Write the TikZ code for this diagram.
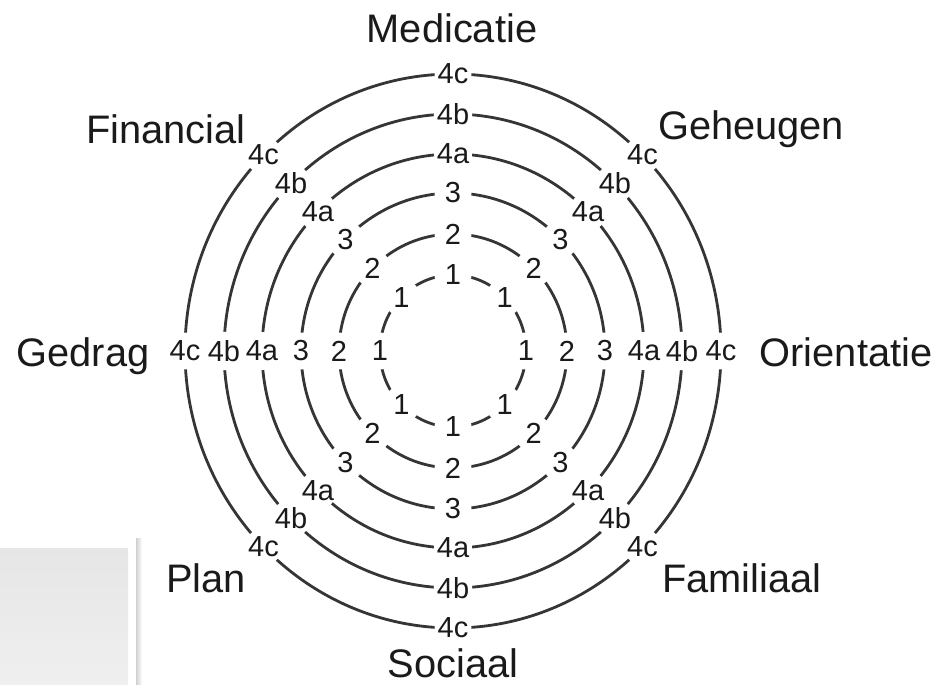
\documentclass[tikz,border=0pt]{standalone}
\usepackage{fontspec}
\setmainfont{Liberation Sans}
\usetikzlibrary{calc}
\definecolor{ringcol}{HTML}{353535}
\definecolor{txtcol}{HTML}{1A1A1A}
\definecolor{boxcol}{HTML}{E6E6E6}
\definecolor{boxcolb}{HTML}{EFEFEF}
\definecolor{sepcol}{HTML}{D0D0D0}
\tikzset{
  ring/.style={draw=ringcol, line width=2.8pt},
  lab/.style={circle, fill=white, inner sep=0pt, minimum size=37pt, text=txtcol,
              font=\fontsize{29}{30}\selectfont},
  big/.style={anchor=base, text=txtcol, inner sep=0pt, font=\fontsize{39.8}{41}\selectfont}
}
\begin{document}
\begin{tikzpicture}[x=1pt,y=-1pt]
\useasboundingbox (0,0) rectangle (950,685);
% grey panel at bottom left
\shade[top color=boxcol, bottom color=boxcolb] (0,548) rectangle (128,685);
\shade[left color=sepcol, right color=white] (136,538) rectangle (142,685);
\coordinate (c) at (453,351);
\foreach \rx/\ry/\lab/\nm in {73/76/1/a, 114/117/2/b, 152/158/3/c, 191/197/4a/d, 229/237/4b/e, 268/277/4c/f}{
  \draw[ring] (c) ellipse [x radius=\rx pt, y radius=\ry pt];
  \foreach \a in {0,45,...,315}{
    \node[lab] (l-\nm-\a) at ($(c)+(\a:\rx pt and \ry pt)$) {\lab};
  }
}
\node[big] (med) at (452,43) {Medicatie};
\node[big] (geh) at (751,139) {Geheugen};
\node[big] (ori) at (846,366) {Orientatie};
\node[big] (fam) at (742,592) {Familiaal};
\node[big] (soc) at (453,677) {Sociaal};
\node[big] (plan) at (206,592) {Plan};
\node[big] (ged) at (83,366) {Gedrag};
\node[big] (fin) at (166,143) {Financial};
\end{tikzpicture}
\end{document}
